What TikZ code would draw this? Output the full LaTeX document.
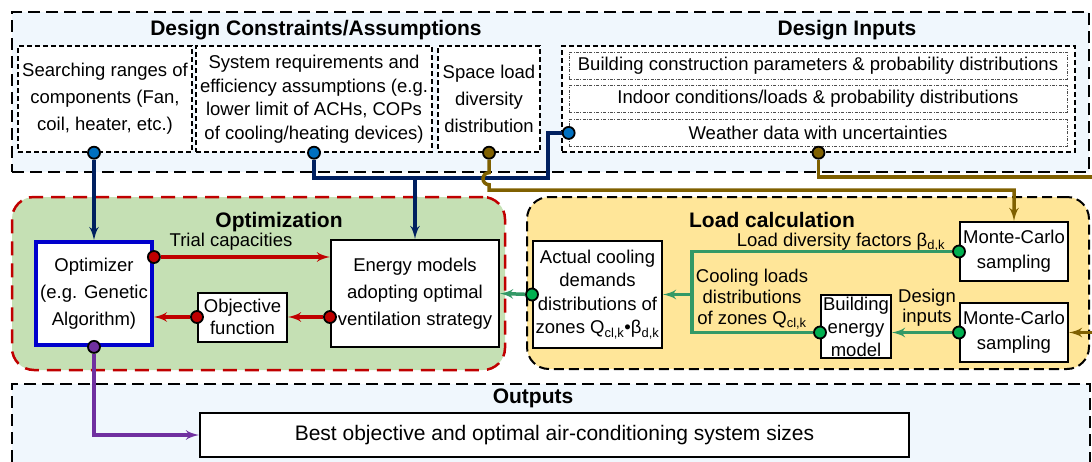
\documentclass[tikz,border=0pt]{standalone}
\usepackage{fontspec}
\setmainfont{Liberation Sans}
\usetikzlibrary{shapes,arrows,positioning,fit,backgrounds}

\definecolor{paleblue}{HTML}{F0F7FD}
\definecolor{optgreen}{HTML}{C5E0B4}
\definecolor{loadyellow}{HTML}{FFE699}
\definecolor{optred}{HTML}{C00000}
\definecolor{navyline}{HTML}{002060}
\definecolor{dotblue}{HTML}{0070C0}
\definecolor{brownline}{HTML}{7F6000}
\definecolor{greenline}{HTML}{339966}
\definecolor{dotgreen}{HTML}{00B050}
\definecolor{purpleline}{HTML}{7030A0}
\definecolor{optblue}{HTML}{0000CC}

\begin{document}
\begin{tikzpicture}[x=1pt, y=-1pt, font=\fontsize{18.5}{25}\selectfont]
    % Define styles
    \tikzstyle{group}=[rectangle,draw=black,line width=2pt,dash pattern=on 12pt off 6pt,fill=paleblue]
    \tikzstyle{item}=[rectangle,draw=black,line width=1.4pt,dash pattern=on 5pt off 3pt,fill=white,align=center,inner sep=1pt,minimum height=106pt]
    \tikzstyle{entry}=[rectangle,draw=black!70,line width=0.7pt,dash pattern=on 3pt off 1.5pt on 0.8pt off 1.5pt,fill=white,minimum width=498pt,minimum height=27pt,inner sep=1pt]
    \tikzstyle{block}=[rectangle,draw=black,line width=2pt,fill=white,align=center,inner sep=1pt]
    \tikzstyle{title}=[font=\fontsize{21}{24}\selectfont\bfseries]
    \tikzstyle{dot}=[circle,draw=black,line width=1.8pt,inner sep=0pt,minimum size=12pt]
    \tikzstyle{line}=[draw, line width=3.5pt, -latex']
    \tikzstyle{link}=[draw, line width=3.5pt]

    \useasboundingbox (0,0) rectangle (1092,461);

    % Design constraints
    \node [title] (constraintstitle) at (316,30) {Design Constraints/Assumptions};
    \node [item, minimum width=174pt, font=\fontsize{18.5}{27}\selectfont] (ranges) at (105,99) {Searching ranges of\\components (Fan,\\coil, heater, etc.)};
    \node [item, minimum width=236pt, font=\fontsize{18.5}{23.5}\selectfont] (requirements) at (314,99) {System requirements and\\efficiency assumptions (e.g.\\lower limit of ACHs, COPs\\of cooling/heating devices)};
    \node [item, minimum width=102pt, font=\fontsize{18.5}{27}\selectfont] (diversity) at (489,99) {Space load\\diversity\\distribution};

    % Design inputs
    \node [title] (inputstitle) at (847,30) {Design Inputs};
    \node [item, minimum width=513pt] (inputs) at (818.5,99) {};
    \node [entry] (construction) at (818,65.5) {Building construction parameters \& probability distributions};
    \node [entry, below=6pt of construction] (indoor) {Indoor conditions/loads \& probability distributions};
    \node [entry, below=6pt of indoor] (weather) {Weather data with uncertainties};

    % Optimization
    \node [title] (optimizationtitle) at (279,222) {Optimization};
    \node [block, line width=3.8pt, draw=optblue, minimum width=116pt, minimum height=103pt, font=\fontsize{18.5}{27}\selectfont] (optimizer) at (94,293.5) {Optimizer\\(e.g. Genetic\\Algorithm)};
    \node [block, minimum width=168pt, minimum height=107pt, font=\fontsize{18.5}{27}\selectfont] (energy) at (415,293.5) {Energy models\\adopting optimal\\ventilation strategy};
    \node [block, minimum width=89pt, minimum height=49pt, font=\fontsize{18.5}{22}\selectfont] (objective) at (242.5,317) {Objective\\function};
    \node (triallabel) at (231,242) {Trial capacities};

    % Load calculation
    \node [title] (loadtitle) at (772,220) {Load calculation};
    \node [block, minimum width=108pt, minimum height=59pt] (sampling1) at (1014,251.5) {Monte-Carlo\\sampling};
    \node [block, minimum width=108pt, minimum height=59pt] (sampling2) at (1014,332.5) {Monte-Carlo\\sampling};
    \node [block, minimum width=70pt, minimum height=63pt, font=\fontsize{18.5}{23}\selectfont] (buildingmodel) at (856,326.5) {Building\\energy\\model};
    \node [block, minimum width=129pt, minimum height=107pt, font=\fontsize{18.5}{23.5}\selectfont] (actual) at (597.5,294.5) {Actual cooling\\demands\\distributions of\\zones Q\textsubscript{cl,k}•β\textsubscript{d,k}};
    \node (factorlabel) at (841,242) {Load diversity factors β\textsubscript{d,k}};
    \node [align=center, font=\fontsize{18.5}{21}\selectfont] (loadslabel) at (752,299) {Cooling loads\\distributions\\of zones Q\textsubscript{cl,k}};
    \node [align=center, font=\fontsize{18.5}{20}\selectfont] (designlabel) at (927,308) {Design\\inputs};

    % Outputs
    \node [title] (outputstitle) at (533,398) {Outputs};
    \node [block, minimum width=709pt, minimum height=44pt, font=\fontsize{21}{24}\selectfont] (best) at (554.5,435) {Best objective and optimal air-conditioning system sizes};

    % Connection points
    \node [dot, fill=dotblue] (rangesdot) at (optimizer.north |- ranges.south) {};
    \node [dot, fill=dotblue] (requirementsdot) at (requirements.south) {};
    \node [dot, fill=dotblue] (weatherdot) at (weather.west) {};
    \node [dot, fill=brownline] (diversitydot) at (diversity.south) {};
    \node [dot, fill=brownline] (inputsdot) at (inputs.south) {};
    \coordinate (trialrow) at (0,257);
    \node [dot, fill=optred] (trialdot) at (optimizer.east |- trialrow) {};
    \node [dot, fill=optred] (energydot) at (energy.west |- objective.east) {};
    \node [dot, fill=optred] (objectivedot) at (objective.west) {};
    \node [dot, fill=dotgreen] (actualdot) at (actual.west) {};
    \node [dot, fill=dotgreen] (factordot) at (sampling1.west) {};
    \node [dot, fill=dotgreen] (inputdot) at (sampling2.west) {};
    \node [dot, fill=dotgreen] (modeldot) at (buildingmodel.west |- sampling2.west) {};
    \node [dot, fill=purpleline] (optimizerdot) at (optimizer.south) {};
    \coordinate (navyjoint) at (548,178);
    \coordinate (brownrow) at (0,190);
    \coordinate (brownright) at (1100,177);
    \coordinate (greenjoint) at (692,0);

    % Define connections
    \path [line, navyline] (rangesdot) -- (optimizer.north);
    \path [link, navyline] (requirementsdot) |- (navyjoint) |- (weatherdot);
    \path [line, navyline] (energy.north |- navyjoint) -- (energy.north);
    \path [line, brownline] (diversitydot) -- ++(0,20) arc[start angle=90, end angle=270, radius=6pt] -- (diversitydot |- brownrow) -- (sampling1.north |- brownrow) -- (sampling1.north);
    \path [line, brownline] (inputsdot) |- (brownright) |- (sampling2.east);
    \path [line, optred] (trialdot) -- (energy.west |- trialdot);
    \path [line, optred] (energydot) -- (objective.east);
    \path [line, optred] (objectivedot) -- (optimizer.east |- objectivedot);
    \path [line, greenline] (actualdot) -- (energy.east);
    \path [link, greenline] (factordot) -| (greenjoint |- modeldot) -- (modeldot);
    \path [line, greenline] (greenjoint |- actual.east) -- (actual.east);
    \path [line, greenline] (inputdot) -- (buildingmodel.east |- inputdot);
    \path [line, purpleline] (optimizerdot) |- (best.west);

    % Background rectangles
    \begin{pgfonlayer}{background}
        \node [group, minimum width=1077pt, minimum height=160pt] (design) at (550.5,92) {};
        \node [rounded corners=22pt, draw=optred, line width=2.5pt, dash pattern=on 14pt off 8pt, fill=optgreen, minimum width=493pt, minimum height=173pt] (optimization) at (258.5,283.5) {};
        \node [rounded corners=22pt, draw=black, line width=2pt, dash pattern=on 10pt off 5pt, fill=loadyellow, minimum width=562pt, minimum height=172pt] (loadcalc) at (808,283) {};
        \node [group, minimum width=1078pt, minimum height=100pt] (outputs) at (551,434) {};
    \end{pgfonlayer}
\end{tikzpicture}
\end{document}
